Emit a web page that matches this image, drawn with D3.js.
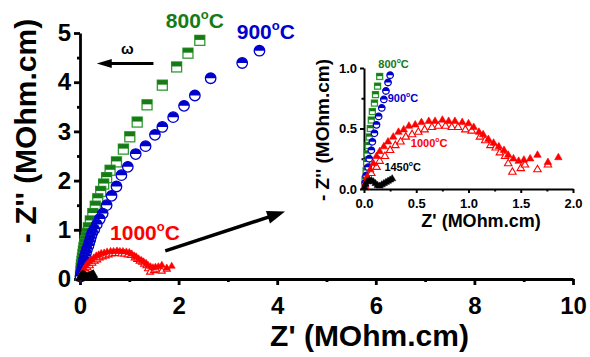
<!DOCTYPE html>
<html>
<head>
<meta charset="utf-8">
<script src="https://cdn.jsdelivr.net/npm/d3@7"></script>
<style>
  body { margin: 0; background: #fff; }
  svg text { font-family: "Liberation Sans", Arial, sans-serif; font-weight: bold; }
</style>
</head>
<body>
<svg id="chart" width="590" height="357"></svg>
<script>
// Nyquist data, [Z', -Z''] in MOhm.cm
const t800 = [[2.43,4.85],[2.19,4.59],[1.96,4.31],[1.67,3.94],[1.36,3.54],[1.16,3.19],[1.01,2.89],
  [0.88,2.64],[0.74,2.38],[0.61,2.21],[0.54,2.06],[0.48,1.93],[0.42,1.78],[0.36,1.63],[0.31,1.48],
  [0.26,1.33],[0.21,1.18],[0.17,1.04],[0.15,0.93],[0.13,0.85],[0.11,0.78],[0.10,0.71],[0.08,0.64],
  [0.07,0.57],[0.06,0.50],[0.05,0.43],[0.04,0.36],[0.03,0.29],[0.025,0.22],[0.02,0.15],[0.01,0.08]];
const t900 = [[3.64,4.64],[3.29,4.39],[2.65,4.08],[2.33,3.73],[2.11,3.52],[1.89,3.29],[1.67,3.09],
  [1.52,2.93],[1.33,2.70],[1.13,2.54],[0.97,2.28],[0.84,2.11],[0.74,1.88],[0.64,1.69],[0.54,1.50],
  [0.46,1.33],[0.40,1.22],[0.34,1.11],[0.29,1.01],[0.25,0.94],[0.23,0.88],[0.21,0.81],[0.19,0.74],
  [0.17,0.67],[0.14,0.60],[0.12,0.53],[0.10,0.46],[0.08,0.39],[0.07,0.32],[0.05,0.25],[0.04,0.18],
  [0.02,0.11],[0.01,0.05]];
const t1000a = [[0.01,0.04],[0.03,0.10],[0.06,0.16],[0.09,0.21],[0.12,0.27],[0.15,0.31],[0.19,0.35],
  [0.23,0.39],[0.28,0.43],[0.33,0.47],[0.38,0.49],[0.43,0.52],[0.49,0.53],[0.55,0.55],[0.62,0.56],
  [0.68,0.56],[0.75,0.57],[0.81,0.56],[0.87,0.56],[0.94,0.55],[1.00,0.54],[1.05,0.51],[1.10,0.47],
  [1.14,0.45],[1.19,0.41],[1.24,0.38],[1.29,0.35],[1.34,0.32],[1.38,0.28],[1.43,0.25],[1.48,0.23],
  [1.53,0.24],[1.59,0.25],[1.66,0.28],[1.76,0.22],[1.86,0.26]];
const t1000b = [[0.01,0.02],[0.03,0.07],[0.07,0.13],[0.12,0.18],[0.15,0.23],[0.20,0.27],[0.25,0.32],
  [0.30,0.36],[0.35,0.39],[0.40,0.43],[0.46,0.45],[0.52,0.47],[0.58,0.49],[0.65,0.51],[0.71,0.52],
  [0.78,0.52],[0.84,0.51],[0.90,0.51],[0.97,0.49],[1.03,0.48],[1.11,0.43],[1.16,0.40],[1.21,0.36],
  [1.26,0.34],[1.30,0.30],[1.35,0.27],[1.38,0.21],[1.42,0.14],[1.50,0.17],[1.54,0.20],[1.66,0.16],
  [1.76,0.20]];
const t1450 = [[0.005,0.015],[0.015,0.04],[0.03,0.06],[0.05,0.07],[0.07,0.07],[0.09,0.06],[0.11,0.045],
  [0.13,0.03],[0.15,0.025],[0.17,0.035],[0.19,0.045],[0.21,0.055],[0.23,0.065],[0.25,0.075],[0.27,0.085]];

const xTicks = [0, 2, 4, 6, 8, 10];
const yTicks = [0, 1, 2, 3, 4, 5];
const insetXTicks = [0, 0.5, 1.0, 1.5, 2.0];
const insetYTicks = [0, 0.5, 1.0];

const green = "#167a16", greenEdge = "#2f9a2f", blue = "#0000cd", red = "#ff0000";

const svg = d3.select("#chart");

const x = d3.scaleLinear().domain([0, 10]).range([80, 573]);
const y = d3.scaleLinear().domain([0, 5]).range([279, 33]);
const ix = d3.scaleLinear().domain([0, 2]).range([364, 573]);
const iy = d3.scaleLinear().domain([0, 1]).range([189, 68]);

function axes(xs, ys, xt, yt, xMinor, yMinor, o) {
  const g = svg.append("g");
  const [y0] = ys.range();
  const [x0] = xs.range();
  g.append("g").attr("transform", `translate(0,${y0})`)
    .call(d3.axisBottom(xs).tickValues(xMinor).tickSize(o.minor).tickFormat(""))
    .call(a => a.select(".domain").remove());
  g.append("g").attr("transform", `translate(${x0},0)`)
    .call(d3.axisLeft(ys).tickValues(yMinor).tickSize(o.minor).tickFormat(""))
    .call(a => a.select(".domain").remove());
  g.append("g").attr("transform", `translate(0,${y0})`)
    .call(d3.axisBottom(xs).tickValues(xt).tickSize(o.major).tickSizeOuter(0)
      .tickPadding(o.xpad).tickFormat(o.fmt));
  g.append("g").attr("transform", `translate(${x0},0)`)
    .call(d3.axisLeft(ys).tickValues(yt).tickSize(o.major).tickSizeOuter(0)
      .tickPadding(o.ypad).tickFormat(o.fmt));
  g.selectAll("path, line").attr("stroke", "#000").attr("stroke-width", o.sw);
  g.selectAll("text").attr("font-size", o.fs).attr("fill", "#000")
    .attr("font-family", "'Liberation Sans', Arial, sans-serif").attr("font-weight", "bold");
  return g;
}

function plot(xs, ys, data, kind, s, color) {
  const g = svg.append("g");
  const pts = g.selectAll("g").data(data).enter().append("g")
    .attr("transform", d => `translate(${xs(d[0])},${ys(d[1])})`);
  if (kind === "square") {
    pts.append("rect").attr("x", -s / 2).attr("y", -s / 2).attr("width", s).attr("height", s)
      .attr("fill", "#fff").attr("stroke", greenEdge).attr("stroke-width", 1.3);
    pts.append("rect").attr("x", -s / 2).attr("y", -s / 2).attr("width", s).attr("height", s * 0.45)
      .attr("fill", color);
  } else if (kind === "circle") {
    const r = s / 2;
    pts.append("circle").attr("r", r).attr("fill", "#fff").attr("stroke", color).attr("stroke-width", 1.3);
    pts.append("path").attr("d", `M${-r},0A${r},${r} 0 0 1 ${r},0Z`).attr("fill", color);
  } else {
    const tri = d3.symbol(d3.symbolTriangle).size(Math.sqrt(3) / 4 * s * s)();
    pts.append("path").attr("d", tri)
      .attr("fill", kind === "open" ? "#fff" : color)
      .attr("stroke", color).attr("stroke-width", kind === "open" ? 1.1 : 0.6);
  }
}

function label(xs, ys, pos, txt, fs, color) {
  const t = svg.append("text").attr("x", xs(pos[0])).attr("y", ys(pos[1]))
    .attr("font-size", fs).attr("fill", color);
  t.append("tspan").text(txt);
  t.append("tspan").attr("font-size", fs * 0.62).attr("dy", -fs * 0.42).text("o");
  t.append("tspan").attr("dy", fs * 0.42).text("C");
}

function arrow(p0, p1, sw, len, half) {
  const a = [x(p0[0]), y(p0[1])], b = [x(p1[0]), y(p1[1])];
  const ang = Math.atan2(b[1] - a[1], b[0] - a[0]);
  const cx = Math.cos(ang), sy = Math.sin(ang);
  const base = [b[0] - cx * len, b[1] - sy * len];
  svg.append("line").attr("x1", a[0]).attr("y1", a[1]).attr("x2", base[0] + cx * 2).attr("y2", base[1] + sy * 2)
    .attr("stroke", "#000").attr("stroke-width", sw);
  svg.append("path").attr("fill", "#000")
    .attr("d", `M${b[0]},${b[1]}L${base[0] - sy * half},${base[1] + cx * half}L${base[0] + sy * half},${base[1] - cx * half}Z`);
}

// main plot
axes(x, y, xTicks, yTicks, [1, 3, 5, 7, 9], [0.5, 1.5, 2.5, 3.5, 4.5],
  { major: 6, minor: 3, xpad: 12, ypad: 3, sw: 2.8, fs: 24, fmt: d3.format("d") });

plot(x, y, t800, "square", 10, green);
plot(x, y, t900, "circle", 10.5, blue);
plot(x, y, t1000b, "open", 7, red);
plot(x, y, t1000a, "filled", 7, red);
plot(x, y, t1450, "filled", 9, "#000");

label(x, y, [1.74, 5.10], "800", 21, green);
label(x, y, [3.18, 4.88], "900", 21, blue);
label(x, y, [0.61, 0.79], "1000", 21, red);

svg.append("text").attr("x", x(0.96)).attr("y", y(4.57)).attr("text-anchor", "middle")
  .attr("font-size", 15).text("ω");
arrow([1.49, 4.38], [0.34, 4.38], 3, 15, 4.5);
arrow([1.73, 0.57], [4.16, 1.37], 3.5, 18, 6.5);

svg.append("text").attr("transform", "translate(36,131) rotate(-90)").attr("text-anchor", "middle")
  .attr("font-size", 30).text("- Z'' (MOhm.cm)");
svg.append("text").attr("x", 369.5).attr("y", 346).attr("text-anchor", "middle")
  .attr("font-size", 30).text("Z' (MOhm.cm)");

// inset
axes(ix, iy, insetXTicks, insetYTicks, [0.25, 0.75, 1.25, 1.75], [0.25, 0.75],
  { major: 4, minor: 2.5, xpad: 6, ypad: 3, sw: 2, fs: 13, fmt: d3.format(".1f") });

const inside = d => d[0] <= 2 && d[1] <= 1.0;
plot(ix, iy, t800.filter(inside), "square", 6, green);
plot(ix, iy, t900.filter(inside), "circle", 6.5, blue);
plot(ix, iy, t1000b.filter(inside), "open", 7.5, red);
plot(ix, iy, t1000a.filter(inside), "filled", 7.5, red);
plot(ix, iy, t1450, "filled", 7, "#000");

label(ix, iy, [0.137, 1.0], "800", 11, green);
label(ix, iy, [0.227, 0.723], "900", 11, blue);
label(ix, iy, [0.448, 0.35], "1000", 11, red);
label(ix, iy, [0.195, 0.15], "1450", 11, "#000");

svg.append("text").attr("transform", "translate(329,130) rotate(-90)").attr("text-anchor", "middle")
  .attr("font-size", 19).text("- Z'' (MOhm.cm)");
svg.append("text").attr("x", 481).attr("y", 227).attr("text-anchor", "middle")
  .attr("font-size", 18).text("Z' (MOhm.cm)");
</script>
</body>
</html>
